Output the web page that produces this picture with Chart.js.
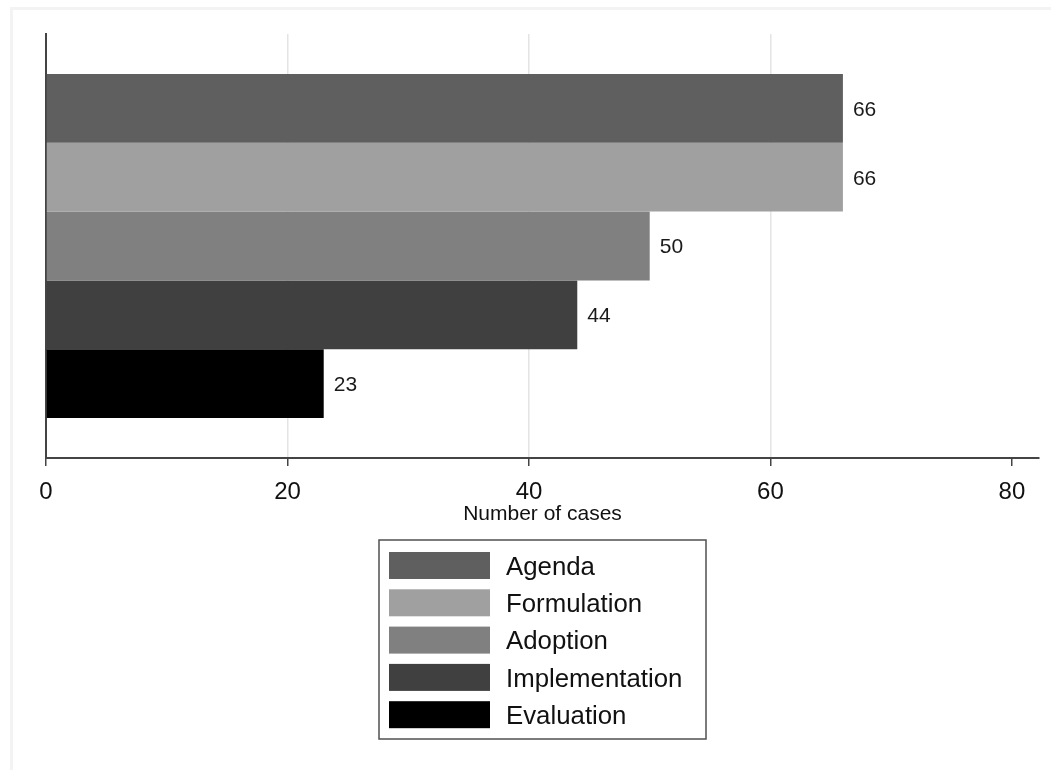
<!DOCTYPE html>
<html>
<head>
<meta charset="utf-8">
<script src="https://cdn.jsdelivr.net/npm/chart.js@4"></script>
<style>
  html, body { margin: 0; padding: 0; background: #fff; }
  #wrap { position: relative; width: 1051px; height: 770px; }
  #frame {
    position: absolute; left: 10px; top: 7px; right: 0; bottom: 0;
    border-top: 3px solid #f3f3f3; border-left: 3px solid #f3f3f3;
  }
  canvas { position: absolute; left: 0; top: 0; }
</style>
</head>
<body>
<div id="wrap">
  <div id="frame"></div>
  <canvas id="chart" width="1051" height="770"></canvas>
</div>
<script>
const stages = ["Agenda", "Formulation", "Adoption", "Implementation", "Evaluation"];
const cases = [66, 66, 50, 44, 23];
const colors = ["#5f5f5f", "#a0a0a0", "#808080", "#404040", "#000000"];
const xTicks = [0, 20, 40, 60, 80];

const FONT = "'Liberation Sans', Arial, sans-serif";

// value labels to the right of each bar
const valueLabels = {
  id: "valueLabels",
  afterDatasetsDraw(chart) {
    const ctx = chart.ctx;
    ctx.save();
    ctx.font = "21px " + FONT;
    ctx.fillStyle = "#1a1a1a";
    ctx.textBaseline = "middle";
    ctx.textAlign = "left";
    chart.data.datasets.forEach((ds, i) => {
      const bar = chart.getDatasetMeta(i).data[0];
      ctx.fillText(ds.data[0], bar.x + 10, bar.y + 1.5);
    });
    ctx.restore();
  }
};

// boxed, one-column legend under the axis
const boxLegend = {
  id: "boxLegend",
  afterDraw(chart) {
    const ctx = chart.ctx;
    const area = chart.chartArea;
    const w = 327, rowH = 37.3, top = 540;
    const h = 199;
    const left = Math.round((area.left + area.right) / 2 - w / 2);
    ctx.save();
    ctx.strokeStyle = "#505050";
    ctx.lineWidth = 1.5;
    ctx.strokeRect(left, top, w, h);
    ctx.font = "25.8px " + FONT;
    ctx.textBaseline = "middle";
    chart.data.datasets.forEach((ds, i) => {
      const cy = top + 25.5 + i * rowH;
      ctx.fillStyle = ds.backgroundColor;
      ctx.fillRect(left + 10, cy - 13.5, 101, 27);
      ctx.fillStyle = "#111";
      ctx.fillText(ds.label, left + 127, cy + 2);
    });
    ctx.restore();
  }
};

new Chart(document.getElementById("chart"), {
  type: "bar",
  data: {
    labels: [""],
    datasets: stages.map((s, i) => ({
      label: s,
      data: [cases[i]],
      backgroundColor: colors[i],
      borderWidth: 0,
      categoryPercentage: 0.811,
      barPercentage: 1
    }))
  },
  options: {
    indexAxis: "y",
    responsive: false,
    animation: false,
    layout: { padding: { top: 34, left: 46, right: 12, bottom: 240 } },
    plugins: {
      legend: { display: false },
      tooltip: { enabled: false }
    },
    scales: {
      x: {
        min: 0,
        max: 82.24,
        afterBuildTicks(scale) {
          scale.ticks = xTicks.map(v => ({ value: v }));
        },
        afterFit(scale) { scale.height = 72; },
        grid: {
          color: ctx => (ctx.tick && ctx.tick.value > 0 && ctx.tick.value < 80) ? "#e4e4e4" : "rgba(0,0,0,0)",
          lineWidth: 1.5,
          tickColor: "#444",
          tickLength: 8,
          tickWidth: 1.5
        },
        border: { display: true, color: "#444", width: 2 },
        ticks: {
          color: "#111",
          font: { family: FONT, size: 24 },
          padding: 12,
          maxRotation: 0
        },
        title: {
          display: true,
          text: "Number of cases",
          color: "#111",
          font: { family: FONT, size: 21 },
          padding: { top: 0, bottom: 3 }
        }
      },
      y: {
        afterFit(scale) { scale.width = 0; },
        grid: { display: false },
        border: { display: true, color: "#444", width: 2 },
        ticks: { display: false }
      }
    }
  },
  plugins: [valueLabels, boxLegend]
});
</script>
</body>
</html>
